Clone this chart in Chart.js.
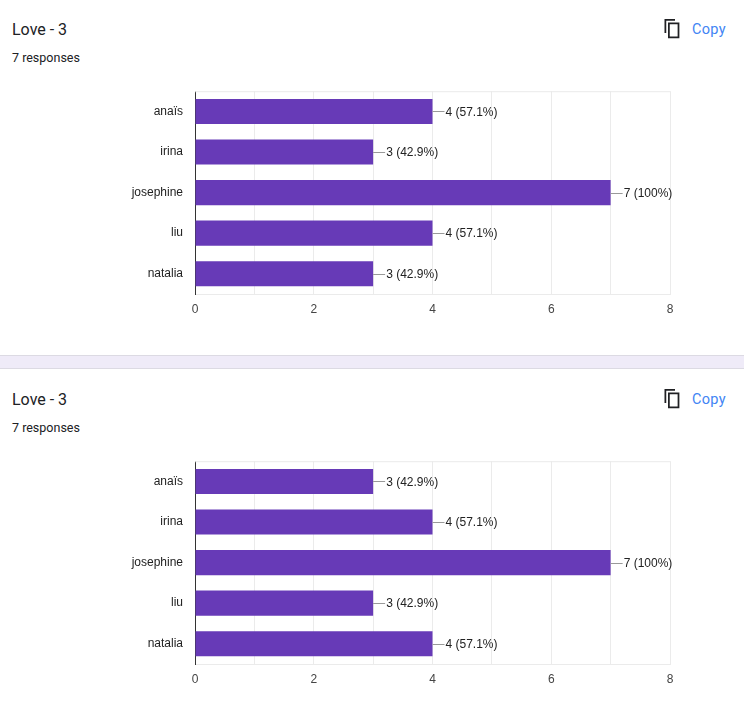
<!DOCTYPE html>
<html>
<head>
<meta charset="utf-8">
<script src="https://cdn.jsdelivr.net/npm/chart.js@4.4.1/dist/chart.umd.min.js"></script>
<style>
  html, body { margin: 0; padding: 0; background: #fff; }
  body { width: 744px; height: 714px; position: relative; overflow: hidden; font-family: Roboto, "Noto Sans", sans-serif; }
  .card { position: absolute; left: 0; width: 744px; height: 355px; }
  .title { position: absolute; left: 12px; top: 20px; font-size: 16px; color: #202124; line-height: 20px; }
  .count { position: absolute; left: 12px; top: 50px; font-size: 12.5px; color: #202124; line-height: 16px; }
  .copy { position: absolute; left: 661px; top: 18px; }
  .copy svg { position: absolute; left: 0; top: 0; }
  .copy span { position: absolute; left: 31px; top: 3px; font-size: 14.5px; color: #4285f4; line-height: 18px; letter-spacing: 0.3px; }
  .sep { position: absolute; left: 0; top: 355px; width: 744px; height: 12px; background: #efebf8;
         border-top: 1px solid #dcdae3; border-bottom: 1px solid #dcdae3; }
  canvas { position: absolute; left: 0; }
</style>
</head>
<body>
<div class="card" style="top:0">
  <div class="title">Love - 3</div>
  <div class="count">7 responses</div>
  <div class="copy">
    <svg width="21" height="21" viewBox="0 0 24 24"><path fill="#202124" d="M16 1H4v16h2V3h10V1zm5 4H8v18h13V5zm-2 16H10V7h9v14z"/></svg>
    <span>Copy</span>
  </div>
</div>
<div class="sep"></div>
<div class="card" style="top:370px">
  <div class="title">Love - 3</div>
  <div class="count">7 responses</div>
  <div class="copy">
    <svg width="21" height="21" viewBox="0 0 24 24"><path fill="#202124" d="M16 1H4v16h2V3h10V1zm5 4H8v18h13V5zm-2 16H10V7h9v14z"/></svg>
    <span>Copy</span>
  </div>
</div>
<canvas id="chartA" width="744" height="253" style="top:72px"></canvas>
<canvas id="chartB" width="744" height="253" style="top:442px"></canvas>

<script>
// data
const categories = ['anaïs', 'irina', 'josephine', 'liu', 'natalia']
const loveA = [4, 3, 7, 4, 3]
const loveB = [3, 4, 7, 3, 4]
const totalResponses = 7
const xTickLabels = [0, 2, 4, 6, 8]

const FONT = "Arial, 'Liberation Sans', sans-serif"

// 値ラベル（リーダー線付き）
const valueLabels = {
  id: 'valueLabels',
  afterDatasetsDraw(chart) {
    const ctx = chart.ctx
    const data = chart.data.datasets[0].data
    const area = chart.chartArea
    ctx.save()
    // 上端の枠線
    ctx.strokeStyle = '#ebebeb'
    ctx.lineWidth = 1
    ctx.beginPath()
    ctx.moveTo(area.left, area.top + 0.5)
    ctx.lineTo(area.right, area.top + 0.5)
    ctx.stroke()

    chart.getDatasetMeta(0).data.forEach((bar, i) => {
      const y = Math.round(bar.y) + 0.5
      ctx.strokeStyle = '#999'
      ctx.beginPath()
      ctx.moveTo(bar.x, y)
      ctx.lineTo(bar.x + 12, y)
      ctx.stroke()
      const pct = parseFloat((data[i] / totalResponses * 100).toFixed(1))
      ctx.fillStyle = '#222'
      ctx.font = '12px ' + FONT
      ctx.textAlign = 'left'
      ctx.textBaseline = 'middle'
      ctx.fillText(`${data[i]} (${pct}%)`, bar.x + 13, bar.y + 1)
    })
    ctx.restore()
  }
}

const makeChart = (id, values) => {
  new Chart(document.getElementById(id), {
    type: 'bar',
    data: {
      labels: categories,
      datasets: [{
        data: values,
        backgroundColor: '#673ab7',
        categoryPercentage: 1,
        barPercentage: 0.62
      }]
    },
    options: {
      indexAxis: 'y',
      responsive: false,
      animation: false,
      events: [],
      layout: { padding: { left: 0, right: 74, top: 3, bottom: 0 } },
      plugins: { legend: { display: false }, tooltip: { enabled: false } },
      scales: {
        x: {
          min: 0,
          max: 8,
          afterFit: (s) => { s.height = 31 },
          grid: { color: '#ebebeb', drawTicks: false },
          border: { color: '#ebebeb' },
          ticks: {
            stepSize: 1,
            autoSkip: false,
            maxRotation: 0,
            padding: 8,
            color: '#444',
            font: { family: FONT, size: 12 },
            callback: (v) => xTickLabels.includes(v) ? String(v) : ''
          }
        },
        y: {
          afterFit: (s) => { s.width = 195 },
          grid: { display: false, drawTicks: false },
          border: { color: '#333', width: 1 },
          ticks: {
            padding: 12,
            color: '#222',
            font: { family: FONT, size: 12 }
          }
        }
      }
    },
    plugins: [valueLabels]
  })
}

document.addEventListener('DOMContentLoaded', () => {
  makeChart('chartA', loveA)
  makeChart('chartB', loveB)
})
</script>
</body>
</html>
